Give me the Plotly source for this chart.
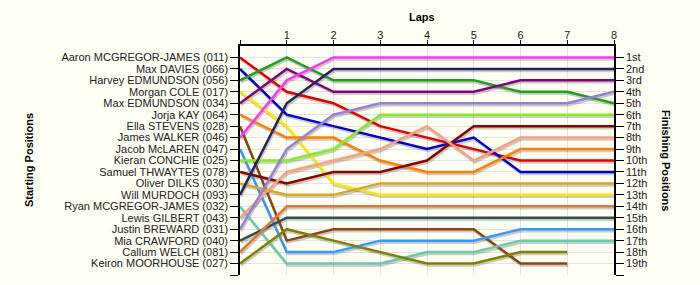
import plotly.graph_objects as go

laps = [0, 1, 2, 3, 4, 5, 6, 7, 8]
lap_labels = ["", "1", "2", "3", "4", "5", "6", "7", "8"]

drivers = [
    "Aaron MCGREGOR-JAMES (011)", "Max DAVIES (066)", "Harvey EDMUNDSON (056)",
    "Morgan COLE (017)", "Max EDMUNDSON (034)", "Jorja KAY (064)",
    "Ella STEVENS (028)", "James WALKER (046)", "Jacob McLAREN (047)",
    "Kieran CONCHIE (025)", "Samuel THWAYTES (078)", "Oliver DILKS (030)",
    "Will MURDOCH (093)", "Ryan MCGREGOR-JAMES (032)", "Lewis GILBERT (043)",
    "Justin BREWARD (031)", "Mia CRAWFORD (040)", "Callum WELCH (081)",
    "Keiron MOORHOUSE (027)",
]

positions = [
    [1, 4, 5, 7, 8, 9, 10, 10, 10],
    [2, 6, 7, 8, 9, 8, 11, 11, 11],
    [3, 1, 3, 3, 3, 3, 4, 4, 5],
    [4, 7, 12, 13, 13, 13, 13, 13, 13],
    [5, 2, 4, 4, 4, 4, 3, 3, 3],
    [6, 8, 8, 10, 11, 11, 9, 9, 9],
    [7, 17, 16, 16, 16, 16, 19, 19, None],
    [8, 3, 1, 1, 1, 1, 1, 1, 1],
    [9, 18, 18, 17, 17, 17, 16, 16, 16],
    [10, 10, 9, 6, 6, 6, 6, 6, 6],
    [11, 12, 11, 11, 10, 7, 7, 7, 7],
    [12, 13, 13, 12, 12, 12, 12, 12, 12],
    [13, 5, 2, 2, 2, 2, 2, 2, 2],
    [14, 19, 19, 19, 18, 18, 17, 17, 17],
    [15, 11, 10, 9, 7, 10, 8, 8, 8],
    [16, 9, 6, 5, 5, 5, 5, 5, 4],
    [17, 15, 15, 15, 15, 15, 15, 15, 15],
    [18, 14, 14, 14, 14, 14, 14, 14, 14],
    [19, 16, 17, 18, 19, 19, 18, 18, None],
]

colors = [
    "#e00000", "#0000d0", "#20a020", "#ffe600", "#800080", "#ff8000",
    "#8b4513", "#ff33ff", "#3399ff", "#80ee20", "#8b0000", "#daa520",
    "#23235f", "#66ccaa", "#f8a080", "#9380db", "#2f4f4f", "#e0773a",
    "#808000",
]

finish_labels = ["1st", "2nd", "3rd", "4th", "5th", "6th", "7th", "8th", "9th",
                 "10th", "11th", "12th", "13th", "14th", "15th", "16th",
                 "17th", "18th", "19th"]

BG = "#fffff4"
FONT = "Liberation Sans, Arial, sans-serif"

# plot geometry (pixels)
L, R, T, B = 240, 86, 45.5, 9.5
W, H = 700, 285
pw, ph = W - L - R, H - T - B
ppx = pw / 8.0
ppy = ph / 20.0
sdx, sdy = 1.0, 2.0  # shadow offset in px

fig = go.Figure()

# invisible trace so the main (labelled) axes are drawn
fig.add_trace(go.Scatter(
    x=laps, y=positions[0], xaxis="x", yaxis="y", mode="lines",
    line=dict(color="rgba(0,0,0,0)", width=0), hoverinfo="skip",
    showlegend=False))

# shadows (overlay x2/y2, shifted)
for pos in positions:
    fig.add_trace(go.Scatter(
        x=laps, y=pos, xaxis="x2", yaxis="y2", mode="lines",
        line=dict(color="rgba(0,0,0,0.2)", width=2.5),
        hoverinfo="skip", showlegend=False, connectgaps=False))

# main lines (overlay x3/y4)
for name, pos, col in zip(drivers, positions, colors):
    fig.add_trace(go.Scatter(
        x=laps, y=pos, xaxis="x3", yaxis="y4", mode="lines", name=name,
        line=dict(color=col, width=2.5), showlegend=False))

tickfont = dict(family=FONT, size=11, color="#222222")

fig.update_layout(
    width=W, height=H,
    margin=dict(l=L, r=R, t=T, b=B, pad=0),
    paper_bgcolor=BG, plot_bgcolor=BG,
    showlegend=False,
    xaxis=dict(range=[0, 8], side="top", tickvals=laps, ticktext=lap_labels,
               ticks="outside", ticklen=4, tickcolor="#000", tickwidth=1,
               ticklabelstandoff=-3,
               showline=True, linecolor="#000", linewidth=1.5,
               showgrid=True, gridcolor="#e4e4e4", gridwidth=1,
               zeroline=False, tickfont=tickfont, fixedrange=True),
    yaxis=dict(range=[20, 0], tickvals=list(range(1, 21)),
               ticktext=drivers + [""],
               ticks="outside", ticklen=8, tickcolor="#000", tickwidth=1,
               showline=True, linecolor="#000", linewidth=1.5,
               showgrid=True, gridcolor="#e4e4e4", gridwidth=1,
               zeroline=False, tickfont=tickfont, fixedrange=True),
    xaxis2=dict(range=[0 - sdx / ppx, 8 - sdx / ppx], overlaying="x",
                visible=False, fixedrange=True),
    yaxis2=dict(range=[20 - sdy / ppy, 0 - sdy / ppy], overlaying="y",
                visible=False, fixedrange=True),
    xaxis3=dict(range=[0, 8], overlaying="x", visible=False, fixedrange=True),
    yaxis4=dict(range=[20, 0], overlaying="y", side="right",
                tickvals=list(range(1, 21)), ticktext=finish_labels + [""],
                ticks="outside", ticklen=8, tickcolor="#000", tickwidth=1,
                showline=True, linecolor="#000", linewidth=1.5,
                showgrid=False, zeroline=False, tickfont=tickfont,
                fixedrange=True),
    annotations=[
        dict(text="<b>Laps</b>", xref="paper", yref="paper",
             x=(422 - L) / pw, y=(H - B - 16) / ph, showarrow=False,
             xanchor="center", yanchor="middle",
             font=dict(family=FONT, size=11, color="#000")),
        dict(text="<b>Starting Positions</b>", xref="paper", yref="paper",
             x=(29 - L) / pw, y=(H - B - 160) / ph, showarrow=False,
             textangle=-90, xanchor="center", yanchor="middle",
             font=dict(family=FONT, size=11, color="#000")),
        dict(text="<b>Finishing Positions</b>", xref="paper", yref="paper",
             x=(666 - L) / pw, y=(H - B - 160) / ph, showarrow=False,
             textangle=90, xanchor="center", yanchor="middle",
             font=dict(family=FONT, size=11, color="#000")),
    ],
)

fig.write_html("out.html")
